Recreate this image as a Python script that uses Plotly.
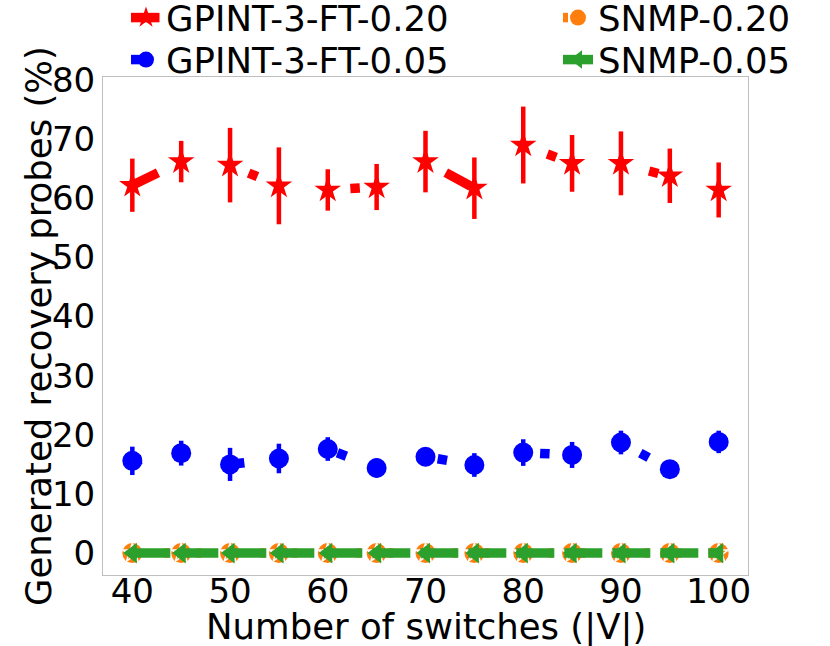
import plotly.graph_objects as go

switches = [40, 45, 50, 55, 60, 65, 70, 75, 80, 85, 90, 95, 100]
gpint_020 = [62.2, 66.2, 65.6, 62.1, 61.4, 61.9, 66.2, 61.7, 69.0, 65.9, 65.9, 63.8, 61.4]
gpint_020_err = [4.5, 3.5, 6.3, 6.5, 3.5, 3.9, 5.2, 5.2, 6.5, 4.8, 5.4, 4.6, 4.65]
gpint_005 = [15.6, 16.9, 15.0, 16.0, 17.6, 14.4, 16.3, 14.9, 17.0, 16.6, 18.7, 14.2, 18.8]
gpint_005_err = [2.4, 2.1, 2.8, 2.5, 2.0, 1.6, 1.4, 2.0, 2.25, 2.2, 2.0, 1.0, 1.9]
snmp_020 = [0, 0, 0, 0, 0, 0, 0, 0, 0, 0, 0, 0, 0]
snmp_005 = [0, 0, 0, 0, 0, 0, 0, 0, 0, 0, 0, 0, 0]

FONT = "DejaVu Sans"
TICK_SIZE = 34
TEXT_SIZE = 35.5
fig = go.Figure()

fig.add_trace(go.Scatter(
    x=switches, y=gpint_020, name="GPINT-3-FT-0.20", mode="lines+markers",
    line=dict(color="#ff0000", width=9.5, dash="28.5px,95px,9.5px,95px,9.5px,95px"),
    marker=dict(symbol="star", size=20, color="#ff0000"),
    error_y=dict(type="data", array=gpint_020_err, color="#ff0000", thickness=4.5, width=0),
    legend="legend"))
fig.add_trace(go.Scatter(
    x=switches, y=gpint_005, name="GPINT-3-FT-0.05", mode="lines+markers",
    line=dict(color="#0000ff", width=9.5, dash="9.5px,95px"),
    marker=dict(symbol="circle", size=20, color="#0000ff"),
    error_y=dict(type="data", array=gpint_005_err, color="#0000ff", thickness=4.5, width=0),
    legend="legend2"))
fig.add_trace(go.Scatter(
    x=switches, y=snmp_020, name="SNMP-0.20", mode="lines+markers",
    line=dict(color="#ff7f0e", width=9.5, dash="5px,27px"),
    marker=dict(symbol="circle", size=20, color="#ff7f0e"),
    legend="legend3"))
fig.add_trace(go.Scatter(
    x=switches, y=snmp_020, name="SNMP-0.20", mode="markers", showlegend=False,
    marker=dict(symbol="star-open", size=14, color="white", line=dict(width=1.5, color="white")),
    hoverinfo="skip"))
fig.add_trace(go.Scatter(
    x=switches, y=snmp_005, name="SNMP-0.05", mode="lines+markers",
    line=dict(color="#2ca02c", width=9.5, dash="38px,10px"),
    marker=dict(symbol="triangle-left", size=18, color="#2ca02c"),
    legend="legend4"))

axis_common = dict(showgrid=False, zeroline=False, showline=True, mirror=True,
                   linecolor="#bfbfbf", linewidth=1, ticks="",
                   tickfont=dict(family=FONT, size=TICK_SIZE, color="black"))


def legend_box(px_x, px_y):
    return dict(x=px_x / 830, y=1 - px_y / 646, xref="container", yref="container",
                xanchor="left", yanchor="middle", bgcolor="rgba(0,0,0,0)",
                font=dict(family=FONT, size=TEXT_SIZE), itemsizing="trace")


fig.update_layout(
    width=830, height=646,
    margin=dict(l=103, r=82, t=77, b=71, autoexpand=False),
    paper_bgcolor="white", plot_bgcolor="white",
    font=dict(family=FONT, size=TICK_SIZE, color="black"),
    xaxis=dict(range=[37, 103], tickvals=[40, 50, 60, 70, 80, 90, 100], ticklabelstandoff=-14,
               **axis_common),
    yaxis=dict(range=[-3.7, 80.5], tickvals=[0, 10, 20, 30, 40, 50, 60, 70, 80],
               **axis_common),
    legend=legend_box(126, 18),
    legend2=legend_box(126, 60),
    legend3=legend_box(558, 18),
    legend4=legend_box(558, 60),
    showlegend=True,
    annotations=[
        dict(text="Number of switches (|V|)", xref="paper", yref="paper",
             x=0.5, y=-(627 - 575) / 498, xanchor="center", yanchor="middle",
             showarrow=False, font=dict(family=FONT, size=TEXT_SIZE, color="black")),
        dict(text="Generated recovery probes (%)", xref="paper", yref="paper",
             x=-(103 - 38) / 645, y=0.5, xanchor="center", yanchor="middle", textangle=-90,
             showarrow=False, font=dict(family=FONT, size=TEXT_SIZE, color="black")),
    ],
)

fig.write_html("out.html", config={"displayModeBar": False},
               post_script="document.body.style.margin='0';")
